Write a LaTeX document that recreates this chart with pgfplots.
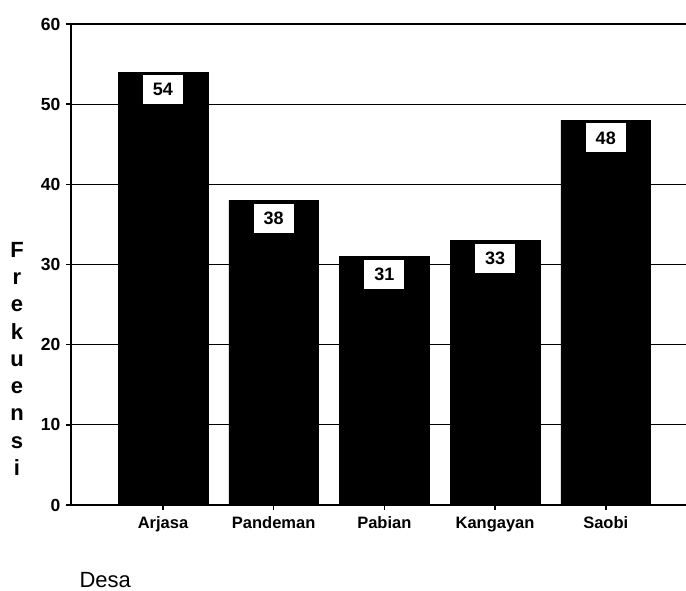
\documentclass[border=0pt]{standalone}
\usepackage{fontspec}
\setmainfont{Liberation Sans}
\usepackage{pgfplots}
\pgfplotsset{compat=1.18}
\begin{document}
\begin{tikzpicture}
\begin{axis}[
  name=ax,
  scale only axis, width=615pt, height=481pt,
  xmin=-0.831, xmax=4.725, ymin=0, ymax=60,
  ybar, bar width=0.81, bar shift=0pt,
  axis lines*=left, axis line style={line width=1.5pt},
  ymajorgrids, grid style={black, line width=1.3pt},
  ytick={0,10,...,60}, xtick=data,
  xticklabels={Arjasa,Pandeman,Pabian,Kangayan,Saobi},
  tick align=outside, major tick length=5pt, tick style={black, line width=1.5pt},
  xticklabel style={font=\bfseries\fontsize{16.5}{20}\selectfont, yshift=-2pt, text height=12.5pt, text depth=3.5pt},
  yticklabel style={font=\bfseries\fontsize{17.5}{20}\selectfont, xshift=-2pt},
  /pgf/number format/assume math mode=true,
  xlabel=Desa,
  xlabel style={at={(rel axis cs:0,0)}, anchor=west, xshift=5pt, yshift=-75pt, font=\fontsize{22}{25}\selectfont},
  ylabel={F\\r\\e\\k\\u\\e\\n\\s\\i},
  ylabel style={rotate=-90, at={(rel axis cs:0,0.304)}, anchor=center, xshift=-54pt, align=center, font=\bfseries\fontsize{22}{27.3}\selectfont},
  nodes near coords,
  nodes near coords style={anchor=north, yshift=-3pt, fill=white, inner sep=0pt, minimum width=40pt, minimum height=29pt, font=\bfseries\fontsize{18}{20}\selectfont},
]
\addplot[fill=black, draw=black] coordinates {(0,54) (1,38) (2,31) (3,33) (4,48)};
\end{axis}
\pgfresetboundingbox
\path ([shift={(-71pt,-86pt)}]ax.south west) rectangle ([shift={(615pt,505pt)}]ax.south west);
\end{tikzpicture}
\end{document}
